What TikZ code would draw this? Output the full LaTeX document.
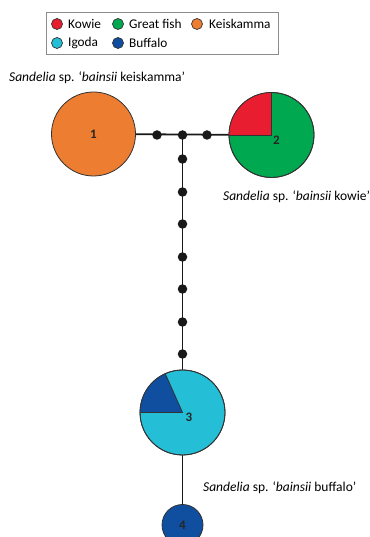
\documentclass[tikz,border=0pt]{standalone}
\usepackage{fontspec}
\setmainfont{Carlito}
\definecolor{cOrange}{RGB}{237,125,49}
\definecolor{cGreen}{RGB}{0,168,80}
\definecolor{cRed}{RGB}{232,30,48}
\definecolor{cCyan}{RGB}{36,190,214}
\definecolor{cBlue}{RGB}{16,78,160}
\definecolor{cOut}{RGB}{50,50,50}
\definecolor{cBox}{RGB}{140,140,140}
\tikzset{
  hap/.style={circle, draw=cOut, line width=0.8pt, inner sep=0pt},
  num/.style={font=\fontsize{13}{13}\selectfont\bfseries, text=black!85, inner sep=0pt},
  link/.style={line width=1.8pt, black!90},
  mv/.style={circle, fill=black!90, inner sep=0pt, minimum size=9.5pt},
  legdot/.style={circle, draw=cOut, line width=0.7pt, inner sep=0pt, minimum size=11pt},
  legtext/.style={anchor=west, inner sep=0pt, font=\fontsize{13.3}{14}\selectfont},
  lab/.style={anchor=west, inner sep=0pt, font=\fontsize{13.5}{14}\selectfont}
}
\begin{document}
\begin{tikzpicture}[x=1pt,y=1pt]
\useasboundingbox (0,0) rectangle (369,537);
% legend
\node[draw=cBox, line width=0.8pt, minimum width=232pt, minimum height=42pt, inner sep=0pt] (legend) at (162,504) {};
\node[legdot, fill=cRed] (lk) at (57,513) {};
\node[legtext] (tk) at (68,513) {Kowie};
\node[legdot, fill=cGreen] (lg) at (118,513) {};
\node[legtext] (tg) at (129,513) {Great fish};
\node[legdot, fill=cOrange] (lo) at (197,513) {};
\node[legtext] (to) at (209,513) {Keiskamma};
\node[legdot, fill=cCyan] (li) at (57,494) {};
\node[legtext] (ti) at (68,494) {Igoda};
\node[legdot, fill=cBlue] (lb) at (118,494) {};
\node[legtext] (tb) at (129,494) {Buffalo};
% haplotype circles (positions)
\coordinate (c1) at (93.5,403);
\coordinate (c2) at (271.5,402);
\coordinate (c3) at (182.5,124.5);
\coordinate (c4) at (182.5,12);
\coordinate (j) at (182.5,402);
% connectors
\draw[link] (c1) -- (c2);
\draw[link] (j) -- (c3);
\draw[link] (c3) -- (c4);
% circles
\node[hap, fill=cOrange, minimum size=84pt] (h1) at (c1) {};
\node[hap, fill=cGreen, minimum size=85pt] (h2) at (c2) {};
\fill[cRed] (h2.center) -- ++(90:42.5) arc (90:180:42.5) -- cycle;
\draw[cOut, line width=0.8pt] (h2.center) -- ++(90:42.5);
\draw[cOut, line width=0.8pt] (h2.center) -- ++(180:42.5);
\draw[cOut, line width=0.8pt] (h2.center) circle (42.5);
\node[hap, fill=cCyan, minimum size=85pt] (h3) at (c3) {};
\fill[cBlue] (h3.center) -- ++(114:42.5) arc (114:180:42.5) -- cycle;
\draw[cOut, line width=0.8pt] (h3.center) -- ++(114:42.5);
\draw[cOut, line width=0.8pt] (h3.center) -- ++(180:42.5);
\draw[cOut, line width=0.8pt] (h3.center) circle (42.5);
\node[hap, fill=cBlue, minimum size=41pt] (h4) at (c4) {};
% median vectors
\node[mv] (m1) at (157,402) {};
\node[mv] (m2) at (j) {};
\node[mv] (m3) at (207,402) {};
\foreach \yy [count=\i from 4] in {378,345,313,280,248,215,183} {
  \node[mv] (m\i) at (182.5,\yy) {};
}
% numbers
\node[num] (n1) at (93.5,403) {1};
\node[num] (n2) at (276.5,397) {2};
\node[num] (n3) at (189,120) {3};
\node[num] (n4) at (182.5,12) {4};
% labels
\node[lab] (l1) at (9,459) {\textit{Sandelia} sp. ‘\textit{bainsii} keiskamma’};
\node[lab] (l2) at (223,340) {\textit{Sandelia} sp. ‘\textit{bainsii} kowie’};
\node[lab] (l3) at (203,49) {\textit{Sandelia} sp. ‘\textit{bainsii} buffalo’};
\end{tikzpicture}
\end{document}
